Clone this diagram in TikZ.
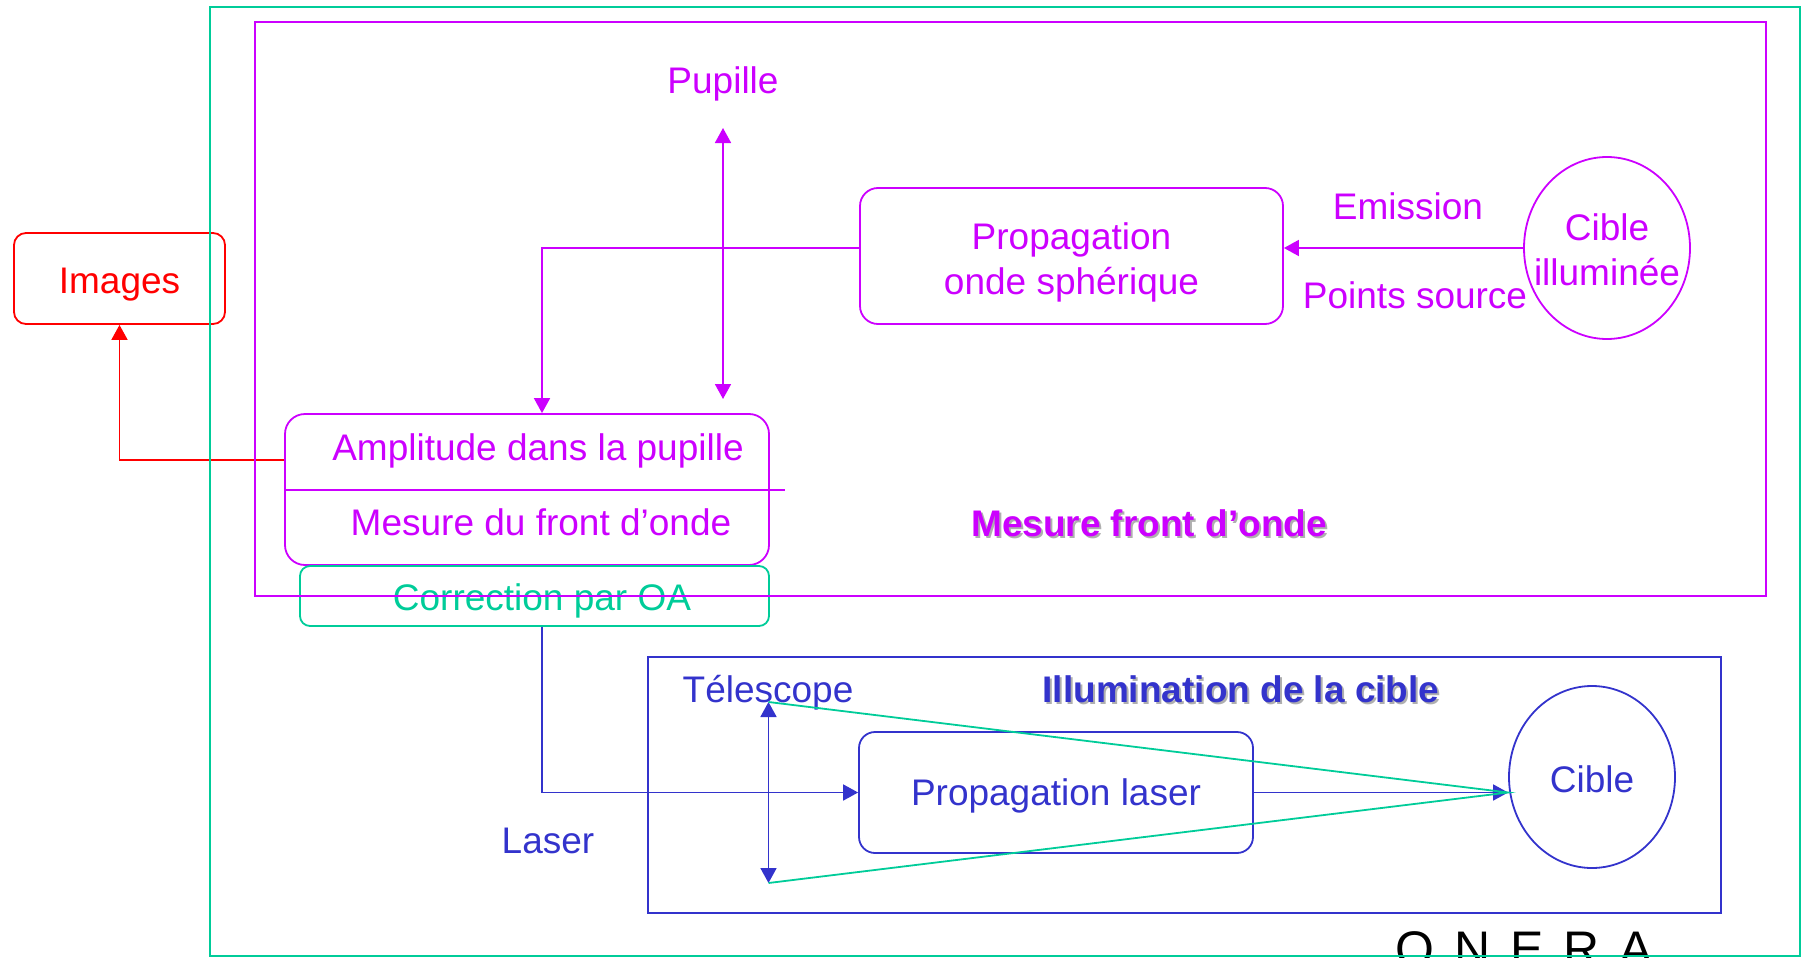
\documentclass[tikz,border=0pt]{standalone}
\usepackage{fontspec}
\setmainfont{Liberation Sans}
\newfontfamily\logofont[LetterSpace=40]{Liberation Sans}
\usepackage{tikz}
\usetikzlibrary{arrows.meta, shapes.geometric}
\usepackage{xcolor}

\definecolor{mauve}{RGB}{204,0,255}
\definecolor{vertOA}{RGB}{0,204,153}
\definecolor{bleuIll}{RGB}{51,51,204}
\definecolor{rouge}{RGB}{255,0,0}
\definecolor{ombre}{RGB}{175,175,175}

\tikzset{
    rbox/.style={draw, rounded corners=18pt, inner sep=0pt, align=center, line width=1.8pt},
    oval/.style={draw, ellipse, inner sep=0pt, minimum width=166pt, minimum height=182pt, line width=1.8pt},
    lbl/.style={inner sep=0pt, anchor=base},
    titre/.style={inner sep=0pt, anchor=base, font=\fontsize{37}{45}\selectfont\bfseries},
    link/.style={line width=1.8pt, -{Triangle[length=15pt,width=16pt]}},
    dlink/.style={line width=1.8pt, {Triangle[length=15pt,width=16pt]}-{Triangle[length=15pt,width=16pt]}},
    cadre/.style={line width=2.2pt}
}

\begin{document}
\begin{tikzpicture}[x=1pt,y=1pt,yscale=-1,xscale=1,font=\fontsize{37}{45}\selectfont]
        \useasboundingbox (0,0) rectangle (1807,958);
        \clip (0,0) rectangle (1807,958);

        %Shape: Rounded Rect
        \node [rbox, draw=rouge, rounded corners=12pt, minimum width=211pt, minimum height=91pt] (images) at (119.5,278.5) {};
        \node [text=rouge, inner sep=0pt] (imagesTxt) at ([yshift=6pt]images.center) {Images};
        %Shape: Rounded Rect
        \node [rbox, draw=mauve, minimum width=423pt, minimum height=136pt] (prop) at (1071.5,256) {};
        \node [text=mauve, align=center, inner sep=0pt] (propTxt) at ([yshift=6pt]prop.center) {Propagation\\onde sphérique};
        %Shape: Ellipse
        \node [oval, draw=mauve] (cibleI) at (1607,248) {};
        \node [text=mauve, align=center, inner sep=0pt] (cibleItxt) at ([yshift=2pt]cibleI.center) {Cible\\illuminée};

        %Shape: Rounded Rect
        \node [rbox, draw=mauve, rounded corners=20pt, minimum width=484pt, minimum height=151pt] (ampl) at (527,489.5) {};
        \coordinate (sepFin) at (785,490);
        \draw [mauve, line width=1.8pt] (sepFin -| ampl.west) -- (sepFin);
        % Text Node
        \node [lbl, text=mauve] (amplTxt) at (538,460) {Amplitude dans la pupille};
        % Text Node
        \node [lbl, text=mauve] (mesureTxt) at (541,535) {Mesure du front d’onde};

        %Shape: Rounded Rect
        \node [rbox, draw=vertOA, rounded corners=10pt, minimum width=469pt, minimum height=60pt] (corr) at (534.5,596) {};
        % Text Node
        \node [lbl, text=vertOA] (corrTxt) at (542,610) {Correction par OA};

        %Shape: Rounded Rect
        \node [rbox, draw=bleuIll, rounded corners=16pt, minimum width=394pt, minimum height=121pt] (propL) at (1056,792.5) {};
        \node [text=bleuIll, inner sep=0pt] (propLTxt) at ([yshift=3pt]propL.center) {Propagation laser};
        %Shape: Ellipse
        \node [oval, draw=bleuIll, text=bleuIll] (cible) at (1592,777) {};
        \node [text=bleuIll, inner sep=0pt] (cibleTxt) at ([yshift=2pt]cible.center) {Cible};

        % Text Node
        \node [lbl, text=mauve] (pupille) at (723,93) {Pupille};
        % Text Node
        \node [lbl, text=mauve] (emission) at (1408,219) {Emission};
        % Text Node
        \node [lbl, text=mauve] (points) at (1415,308) {Points source};
        % Text Node
        \node [titre, text=ombre] (titreMesureOmbre) at (1151,538) {Mesure front d’onde};
        \node [titre, text=mauve] (titreMesure) at (1149,536) {Mesure front d’onde};
        % Text Node
        \node [titre, text=ombre] (titreIllumOmbre) at (1243,704) {Illumination de la cible};
        \node [titre, text=bleuIll] (titreIllum) at (1241,702) {Illumination de la cible};
        % Text Node
        \node [lbl, text=bleuIll] (telescope) at (768,702) {Télescope};
        % Text Node
        \node [lbl, text=bleuIll] (laser) at (548,853) {Laser};
        % Text Node
        \node [inner sep=0pt, anchor=base west, font=\logofont\fontsize{50}{50}\selectfont] (onera) at (1395,966) {ONERA};

        %Straight Lines
        \coordinate (pupHaut) at (723,128);
        \coordinate (pupBas) at (723,399);
        \draw [dlink, mauve] (pupHaut) -- (pupBas);
        \draw [link, mauve] (cibleI.west) -- (cibleI.west -| prop.east);
        \coordinate (ampEntree) at (542,0);
        \draw [link, mauve] (cibleI.west -| prop.west) -| (ampEntree |- ampl.north);
        \coordinate (imgDepart) at (0,460);
        \draw [link, rouge] (imgDepart -| ampl.west) -| (images.south);
        \draw [link, bleuIll] (ampEntree |- corr.south) |- (propL.west);
        \draw [link, bleuIll] (propL.east) -- (propL.east -| cible.west);
        \coordinate (telHaut) at (768.5,702);
        \coordinate (telBas) at (768.5,883);
        \draw [dlink, bleuIll] (telHaut) -- (telBas);
        \draw [vertOA, line width=1.8pt] (telHaut) -- (propL.east -| cible.west) -- (telBas);

        %Shape: Rectangle
        \draw [cadre, vertOA] (210,7) rectangle (1800,956);
        %Shape: Rectangle
        \draw [cadre, mauve] (255,22) rectangle (1766,596);
        %Shape: Rectangle
        \draw [cadre, bleuIll] (648,657) rectangle (1721,913);

\end{tikzpicture}
\end{document}
